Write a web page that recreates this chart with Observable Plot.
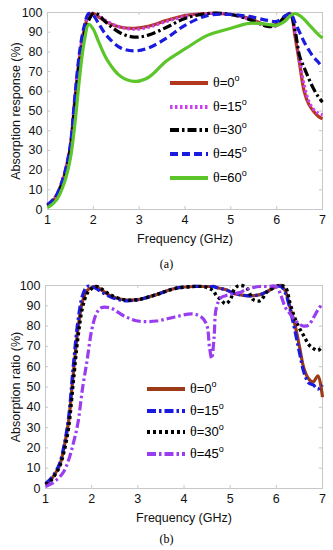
<!DOCTYPE html>
<html><head><meta charset="utf-8">
<script src="https://cdn.jsdelivr.net/npm/d3@7"></script>
<script src="https://cdn.jsdelivr.net/npm/@observablehq/plot@0.6"></script>
<style>
body{margin:0;background:#fff;}
#fig{position:relative;width:333px;height:550px;background:#fff;font-family:"Liberation Sans",Arial,sans-serif;overflow:hidden}
.panel{position:absolute;left:0}
.cap{position:absolute;left:0;width:333px;text-align:center;font-family:"Liberation Serif","Times New Roman",serif;font-size:12px;color:#000}
.leg{position:absolute;display:flex;align-items:center;height:18px;font-size:13px;color:#000;white-space:nowrap}
.leg svg{display:block}
.th{font-family:"Liberation Serif",serif;font-size:14px}
.leg sup{font-size:9px;position:relative;top:-1px}
</style></head><body>
<div id="fig"></div>
<script>
// ---------- data ----------
const xTicks = [1, 2, 3, 4, 5, 6, 7];
const yTicks = [0, 10, 20, 30, 40, 50, 60, 70, 80, 90, 100];

// Panel (a): absorption response vs frequency
const freqA = [1,1.1,1.2,1.3,1.4,1.5,1.6,1.7,1.8,1.9,2.0,2.1,2.3,2.6,2.9,3.2,3.6,4.0,4.5,5.0,5.4,5.8,6.0,6.2,6.3,6.4,6.5,6.6,6.7,6.8,6.9,7.0];
const a_theta0  = [2,4,7,12.5,20,32,56,77,91,98.5,99.5,98,95,92.5,92,93,96,98.5,99.5,99,97,93.5,94,98,99.5,88,74,60,53.5,50,47.5,46];
const a_theta15 = [2.5,4.5,7.5,13,21,33,57,78,92,99,99.5,98.5,95.5,92.5,91.5,92.5,95.5,98,99.5,99,96.5,93,93.5,97.5,99.5,90,76,63,55,51,49,48];
const a_theta30 = [2,4,7,12,19.5,31,54,75,89,96,99.5,99,94.5,89.5,87.5,88.5,92.5,97,99.5,99,96.5,93,93.5,98.5,99,91,78,72,66.5,61.5,57.5,54.5];
const a_theta45 = [2.5,4.5,7.5,13,21,33,58,80,93,99.5,98.5,95,88,82,80.5,82,87,93.5,98.5,99,98,96,95.5,98.5,99.5,95,90,85,81,77.5,75,72];
const a_theta60 = [1,2.5,5,9.5,16,26,44,67,85,94,91.5,86,76,67.5,65,67,75.5,81.5,88.5,92,94.5,94,93.5,96,98.5,99.5,98.5,96.5,94,91.5,89,87];

// Panel (b): absorption ratio vs frequency
const freqB = [1,1.1,1.2,1.3,1.4,1.5,1.6,1.7,1.8,1.9,2.0,2.1,2.2,2.4,2.7,3.0,3.4,3.8,4.2,4.4,4.5,4.55,4.6,4.65,4.7,4.8,4.9,5.0,5.1,5.2,5.35,5.5,5.65,5.8,6.0,6.1,6.2,6.3,6.4,6.5,6.6,6.7,6.8,6.9,7.0];
const b_theta0  = [2,4,7,11,20,33,56,78,92,97.5,99,99.5,98,95,93,93,95.5,98.5,99.5,99.5,99.5,99.5,99.5,99.5,99,98.5,98,97,96,95.5,95,95,95.5,97,99.5,100,97,89,81,70,59,54,52.5,55.5,45];
const b_theta15 = [2.5,4.5,7.5,12,21,35,60,82,95,99.5,99.5,98.5,97,94.5,92.5,93,95.5,98.5,99.5,99.5,99.5,99.5,99.5,99.5,99,98.5,98,97,96,95.5,95,95,95.5,97,99.5,99.5,96,88,78,67,57,52,51,49,51];
const b_theta30 = [2,3.5,6.5,10.5,18,30,52,74,89,96,98.5,99.5,98.5,95.5,93,93,95.5,98.5,99.5,99.5,99,98.5,98,97,95,93,91,93,98.5,100,99,93,92.5,97,99.5,100,99,91,84,79,75,71,69,68,70];
const b_theta45 = [1,2,3.5,5.5,8.5,14,22,32,49,63,78,86,89,89,85,82.5,82.5,84.5,86,84,80,70,64,74,89,94,95,95.5,96,96.5,98,99,99.5,99.5,99.5,95,89,86,83,81,80,80.5,84,88,91];

const seriesA = [
  {label: "0",  values: a_theta0,  color: "#b3371f", width: 3.2, dash: null},
  {label: "15", values: a_theta15, color: "#cc3ff0", width: 3.2, dash: "2.5,2.5"},
  {label: "30", values: a_theta30, color: "#000000", width: 3.2, dash: "9,3,2.5,3"},
  {label: "45", values: a_theta45, color: "#1b1be0", width: 3.2, dash: "8,4"},
  {label: "60", values: a_theta60, color: "#5cc52a", width: 3.2, dash: null}
];
const seriesB = [
  {label: "0",  values: b_theta0,  color: "#9c3b18", width: 3.2, dash: null},
  {label: "15", values: b_theta15, color: "#1b1be0", width: 3.2, dash: "9,3,2.5,3"},
  {label: "30", values: b_theta30, color: "#000000", width: 3.4, dash: "3,3"},
  {label: "45", values: b_theta45, color: "#9a3cf0", width: 3.2, dash: "9,3,2.5,3"}
];

// ---------- drawing ----------
const fig = document.getElementById("fig");

function panel(freqs, series, opts) {
  const marks = [
    Plot.frame({stroke: "#c8c8c8"}),
    Plot.ruleX(xTicks.slice(1, -1), {y1: 0, y2: 1.5, stroke: "#c8c8c8"}),
    Plot.ruleX(xTicks.slice(1, -1), {y1: 98.5, y2: 100, stroke: "#c8c8c8"}),
    Plot.ruleY(yTicks.slice(1, -1), {x1: 1, x2: 1.07, stroke: "#c8c8c8"}),
    Plot.ruleY(yTicks.slice(1, -1), {x1: 6.93, x2: 7, stroke: "#c8c8c8"})
  ];
  for (const s of series) {
    const rows = freqs.map((f, i) => ({f, v: s.values[i]}));
    marks.push(Plot.line(rows, {
      x: "f", y: "v", stroke: s.color, strokeWidth: s.width,
      strokeDasharray: s.dash || undefined, strokeLinecap: "butt", strokeLinejoin: "round",
      curve: "catmull-rom"
    }));
  }
  return Plot.plot({
    width: 333,
    height: opts.height,
    marginTop: opts.marginTop,
    marginBottom: opts.marginBottom,
    marginLeft: opts.marginLeft,
    marginRight: opts.marginRight,
    style: {fontFamily: "Liberation Sans, Arial, sans-serif", fontSize: "12.5px", color: "#111", background: "transparent"},
    x: {domain: [1, 7], ticks: xTicks, tickSize: 0, tickPadding: opts.xPad, tickFormat: d3.format("d"),
        label: "Frequency (GHz)", labelAnchor: "center", labelOffset: opts.xLabelOffset, labelArrow: "none"},
    y: {domain: [0, 100], ticks: yTicks, tickSize: 0, tickPadding: 5, tickFormat: d3.format("d"),
        label: opts.ylabel, labelAnchor: "center", labelOffset: opts.yLabelOffset, labelArrow: "none"},
    marks
  });
}

function legend(series, x0, rows, textGap) {
  series.forEach((s, i) => {
    const d = document.createElement("div");
    d.className = "leg";
    d.style.left = x0 + "px";
    d.style.top = (rows[i] - 9) + "px";
    const ns = "http://www.w3.org/2000/svg";
    const svg = document.createElementNS(ns, "svg");
    svg.setAttribute("width", 38); svg.setAttribute("height", 18);
    const ln = document.createElementNS(ns, "line");
    ln.setAttribute("x1", 0); ln.setAttribute("x2", 38);
    ln.setAttribute("y1", 9); ln.setAttribute("y2", 9);
    ln.setAttribute("stroke", s.color);
    ln.setAttribute("stroke-width", s.width + 0.6);
    if (s.dash) ln.setAttribute("stroke-dasharray", s.dash);
    svg.appendChild(ln);
    d.appendChild(svg);
    const t = document.createElement("span");
    t.style.marginLeft = textGap + "px";
    t.innerHTML = '<span class="th">θ</span>=' + s.label + '<sup>o</sup>';
    d.appendChild(t);
    fig.appendChild(d);
  });
}

const pa = panel(freqA, seriesA, {height: 250, marginTop: 12, marginBottom: 41, marginLeft: 47, marginRight: 11,
  xPad: 6, xLabelOffset: 33, ylabel: "Absorption response (%)", yLabelOffset: 36});
pa.classList.add("panel"); pa.style.top = "0px";
fig.appendChild(pa);

const pb = panel(freqB, seriesB, {height: 262, marginTop: 15, marginBottom: 44, marginLeft: 45, marginRight: 11,
  xPad: 6, xLabelOffset: 33, ylabel: "Absorption ratio (%)", yLabelOffset: 34});
pb.classList.add("panel"); pb.style.top = "270px";
fig.appendChild(pb);

legend(seriesA, 170, [83, 107, 130, 154, 178], 5);
legend(seriesB, 147, [389, 410.5, 432, 453.5], 5);

const ca = document.createElement("div"); ca.className = "cap"; ca.style.top = "257px"; ca.textContent = "(a)"; fig.appendChild(ca);
const cb = document.createElement("div"); cb.className = "cap"; cb.style.top = "532px"; cb.textContent = "(b)"; fig.appendChild(cb);
</script>
</body></html>
